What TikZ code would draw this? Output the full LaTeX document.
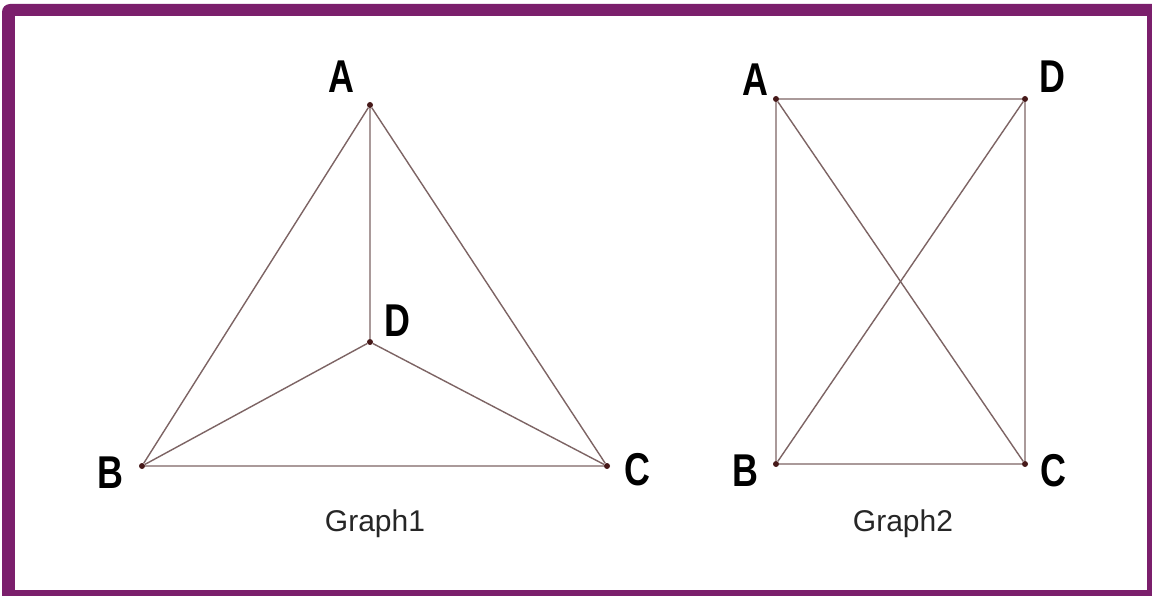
\documentclass[tikz,border=0pt]{standalone}
\usepackage{fontspec}
\setmainfont{Liberation Sans}
\usetikzlibrary{positioning}
\definecolor{frPurple}{RGB}{123,31,108}
\definecolor{edgeGray}{RGB}{125,100,100}
\definecolor{dotBrown}{RGB}{70,25,25}
\newcommand{\vname}[1]{\scalebox{0.78}[1]{#1}}

\begin{document}
\begin{tikzpicture}[
    x=1pt, y=-1pt,
    vertex/.style={circle, fill=dotBrown, inner sep=0pt, minimum size=6pt},
    vlabel/.style={font=\fontsize{46}{46}\selectfont\bfseries, inner sep=0pt},
    caption/.style={font=\fontsize{30}{30}\selectfont, text=black!85, inner sep=0pt},
    edge/.style={draw=edgeGray, line width=1.4pt}
]
  \useasboundingbox (0,0) rectangle (1152,596);
  % frame
  \fill[frPurple] (2,596) -- (2,12) arc[start angle=180, end angle=270, radius=8] -- (1152,4) -- (1152,596) -- cycle;
  \fill[white] (15,16) rectangle (1147,590);

  % Graph1
  \node[vertex] (a1) at (370,105) {};
  \node[vertex] (d1) at (370,342) {};
  \node[vertex] (b1) at (142,466) {};
  \node[vertex] (c1) at (607,466) {};
  \draw[edge] (a1) -- (b1) -- (c1) -- (a1) -- (d1);
  \draw[edge] (b1) -- (d1) -- (c1);
  \node[vlabel] (la1) at (341,77) {\vname{A}};
  \node[vlabel] (ld1) at (397,321) {\vname{D}};
  \node[vlabel] (lb1) at (110,473) {\vname{B}};
  \node[vlabel] (lc1) at (637,470) {\vname{C}};
  \node[caption] (g1) at (375,524) {Graph1};

  % Graph2
  \node[vertex] (a2) at (776,99) {};
  \node[vertex] (d2) at (1025,99) {};
  \node[vertex] (b2) at (776,464) {};
  \node[vertex] (c2) at (1025,464) {};
  \draw[edge] (a2) -- (d2) -- (c2) -- (b2) -- (a2) -- (c2);
  \draw[edge] (b2) -- (d2);
  \node[vlabel] (la2) at (755,80) {\vname{A}};
  \node[vlabel] (ld2) at (1052,77) {\vname{D}};
  \node[vlabel] (lb2) at (745,471) {\vname{B}};
  \node[vlabel] (lc2) at (1053,471) {\vname{C}};
  \node[caption] (g2) at (903,524) {Graph2};
\end{tikzpicture}
\end{document}
